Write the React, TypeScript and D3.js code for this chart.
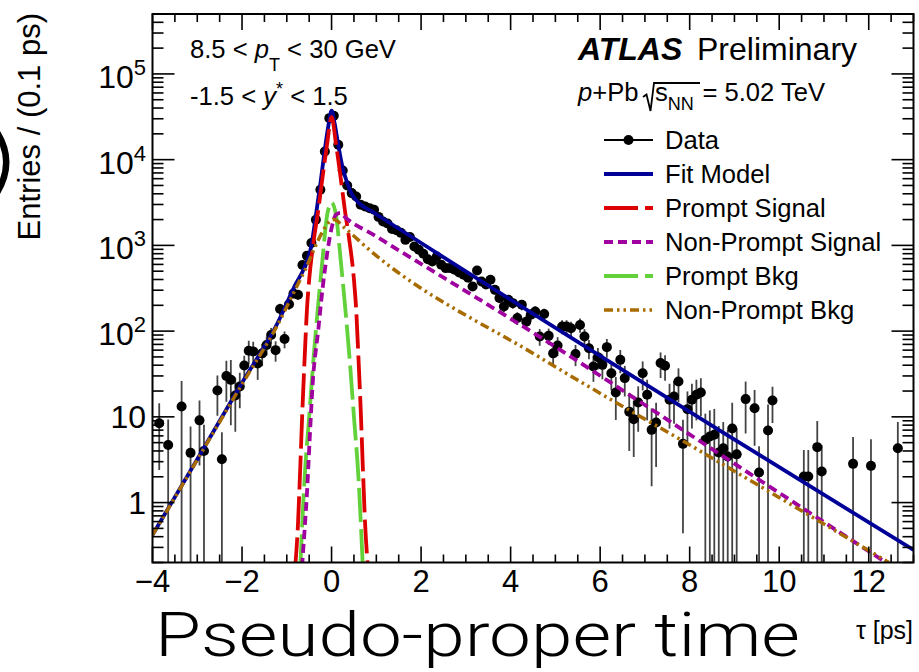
import React, { useEffect, useRef } from 'react';
import * as d3 from 'd3';

// measured entries per 0.1 ps bin
const tau = [
  -3.85, -3.65, -3.35, -3.15, -2.95, -2.85,
  -2.55, -2.45, -2.35, -2.25, -2.15, -2.05, -1.95, -1.85, -1.75, -1.65, -1.55, -1.45, -1.35,
  -1.25, -1.15, -1.05, -0.95, -0.85, -0.75, -0.65, -0.55, -0.45, -0.35, -0.25, -0.15, -0.05,
  0.05, 0.15, 0.25, 0.35, 0.45, 0.55, 0.65, 0.75, 0.85, 0.95,
  1.05, 1.15, 1.25, 1.35, 1.45, 1.55, 1.65, 1.75, 1.85, 1.95,
  2.05, 2.15, 2.25, 2.35, 2.45, 2.55, 2.65, 2.75, 2.85, 2.95,
  3.05, 3.15, 3.25, 3.35, 3.45, 3.55, 3.65, 3.75, 3.85, 3.95,
  4.05, 4.15, 4.25, 4.35, 4.45, 4.55, 4.65, 4.75, 4.85, 4.95,
  5.05, 5.15, 5.25, 5.35, 5.45, 5.55, 5.65, 5.75, 5.85, 5.95,
  6.05, 6.15, 6.25, 6.35, 6.45, 6.55, 6.65, 6.75, 6.85, 6.95,
  7.05, 7.15, 7.25, 7.35, 7.45, 7.55, 7.65, 7.75, 7.85, 7.95,
  8.05, 8.15, 8.25, 8.35, 8.45, 8.55, 8.65, 8.75, 8.85, 8.95,
  9.05, 9.25, 9.45, 9.55, 9.75, 9.85, 10.55, 10.65, 10.85, 10.95, 11.65, 12.05, 12.65,
];
const entries = [
  8.4, 4.7, 13.2, 3.8, 9.1, 4.0,
  20.3, 3.2, 30, 27, 17.7, 22.6, 39.7, 59, 58, 42, 55, 69, 90,
  60, 181, 81, 206, 275, 265, 590, 757, 1064, 1990, 4450, 12470, 30500,
  32500, 14900, 7480, 5000, 4070, 3720, 2980, 2840, 2720, 2600,
  2150, 1900, 1800, 1550, 1500, 1400, 1160, 1250, 970, 890,
  800, 690, 650, 741, 594, 543, 543, 519, 483, 454,
  420, 331, 510, 379, 350, 397, 303, 243, 194, 232,
  212, 142, 203, 129, 155, 169, 86.5, 158, 88, 55,
  68, 113, 113, 108, 54, 118, 86.5, 63, 38.6, 49.7,
  40.4, 65, 32.3, 19.2, 46.2, 28.3, 11.5, 9.4, 14.7, 32.3,
  18.1, 7.05, 8.6, 42.4, 39.4, 15.8, 17.3, 25.8, 4.84, 12.3,
  15.8, 18.1, 19.2, 5.4, 5.9, 6.17, 3.83, 4.3, 3.44, 7.3,
  3.65, 16.1, 12.6, 2.24, 6.92, 15.5, 2.01, 2.01, 4.43, 2.3, 2.83, 2.68, 4.3,
];
const errors = [
  6, 4.6, 13, 3.9, 6.4, 4.1,
  10, 3.4, 15, 19, 11, 10, 12, 18, 17, 15, 16, 17, 19,
  16, 27, 18, 29, 33, 33, 48, 55, 65, 90, 130, 220, 350,
  360, 240, 170, 140, 130, 120, 110, 105, 105, 100,
  95, 90, 85, 80, 78, 75, 68, 70, 62, 60,
  57, 53, 51, 54, 49, 47, 47, 46, 44, 43,
  41, 36, 45, 39, 37, 40, 35, 31, 28, 30,
  29, 24, 28, 23, 25, 26, 19, 25, 19, 15,
  17, 21, 21, 21, 15, 22, 19, 16, 13, 14,
  13, 16, 12, 10, 14, 11, 7.5, 6, 8, 12,
  9, 5.5, 6, 14, 13, 8.5, 9, 11, 4.4, 7.5,
  8.5, 9, 9, 5.5, 6, 6.2, 4, 4.4, 3.6, 7.3,
  3.7, 9.7, 8, 2.3, 7, 7, 2.1, 2.1, 4.5, 2.4, 3, 2.8, 4.4,
];

// fit curves
const fitTau = [-4, -3, -2, -1.2, -0.8, -0.6, -0.45, -0.35, -0.25, -0.15, -0.07, 0, 0.07, 0.15, 0.25, 0.35, 0.45, 0.62, 0.92, 8.64, 13];
const fitVal = [0.42, 3.2, 25, 126, 355, 562, 1000, 2240, 5250, 13200, 25100, 37200, 26300, 14800, 7940, 5370, 3980, 3090, 2450, 7.1, 0.28];

const promptSigTau = [-0.82, -0.75, -0.7, -0.65, -0.6, -0.55, -0.5, -0.4, -0.3, -0.2, -0.1, 0, 0.1, 0.2, 0.3, 0.4, 0.5, 0.55, 0.6, 0.65, 0.7, 0.75, 0.82];
const promptSigVal = [0.158, 0.56, 2.5, 12.6, 50, 178, 398, 1120, 2510, 6310, 15100, 31600, 15100, 6310, 2510, 1120, 398, 178, 50, 12.6, 2.5, 0.56, 0.158];

const promptBkgTau = [-0.7, -0.6, -0.5, -0.4, -0.3, -0.2, -0.1, 0, 0.1, 0.2, 0.3, 0.4, 0.5, 0.6, 0.7];
const promptBkgVal = [0.17, 2.0, 10, 50, 200, 708, 2240, 3160, 2240, 708, 200, 50, 10, 2.0, 0.17];

const nonPromptSigTau = [-0.66, -0.6, -0.55, -0.49, -0.42, -0.3, -0.2, -0.1, 0, 0.1, 0.2, 0.3, 0.95, 4.75, 8.64, 12.45];
const nonPromptSigVal = [0.178, 0.5, 1.26, 5.37, 25.1, 100, 316, 794, 1585, 2290, 2400, 2140, 1318, 79.4, 3.77, 0.19];

const nonPromptBkgTau = [-4, -3, -2, -1.2, -0.75, -0.56, -0.38, -0.19, -0.04, 0.05, 0.3, 0.84, 4.63, 8.64, 12.45];
const nonPromptBkgVal = [0.417, 3.16, 24, 120, 355, 562, 933, 1480, 1905, 2000, 1585, 891, 50.1, 3.0, 0.2];

const xTickLabels = [-4, -2, 0, 2, 4, 6, 8, 10, 12];
const yTickLabels = [1, 10, 100, 1000, 10000, 100000];
const legendLabels = ['Data', 'Fit Model', 'Prompt Signal', 'Non-Prompt Signal', 'Prompt Bkg', 'Non-Prompt Bkg'];

const FONT = "'Liberation Sans', Arial, Helvetica, sans-serif";

function App() {
  const ref = useRef<SVGSVGElement>(null);

  useEffect(() => {
    const svg = d3.select(ref.current);
    svg.selectAll('*').remove();

    const left = 152.5, right = 913.5, top = 14, bottom = 562.5;
    const x = d3.scaleLinear().domain([-4, 13]).range([left, right]);
    const y = d3.scaleLog().domain([0.2, 5e5]).range([bottom, top]);

    svg.append('defs').append('clipPath').attr('id', 'plotArea')
      .append('rect').attr('x', left).attr('y', top).attr('width', right - left).attr('height', bottom - top);

    // piece of a big glyph cut by the left edge
    svg.append('path').attr('d', 'M0,131 Q19,162 0,194 L0,179 Q6,162 0,146 Z').attr('fill', '#000');

    // data error bars and markers
    const plot = svg.append('g').attr('clip-path', 'url(#plotArea)');
    const pts = tau.map((t, i) => ({ t, v: entries[i], e: errors[i] }));
    plot.selectAll('.err').data(pts).enter().append('line')
      .attr('x1', d => x(d.t)).attr('x2', d => x(d.t))
      .attr('y1', d => y(d.v + d.e))
      .attr('y2', d => (d.v - d.e > 0.2 ? y(d.v - d.e) : bottom))
      .attr('stroke', '#444').attr('stroke-width', 1.8);
    plot.selectAll('.pt').data(pts).enter().append('circle')
      .attr('cx', d => x(d.t)).attr('cy', d => y(d.v)).attr('r', 5).attr('fill', '#000');

    const line = d3.line<[number, number]>()
      .x(d => x(d[0])).y(d => y(d[1])).curve(d3.curveMonotoneX);

    const fit = { t: fitTau, v: fitVal, color: '#000099', dash: null, w: 3.8 };
    const pSig = { t: promptSigTau, v: promptSigVal, color: '#dd0000', dash: '34,7', w: 3.8 };
    const pBkg = { t: promptBkgTau, v: promptBkgVal, color: '#62d13a', dash: '34,7', w: 3.8 };
    const npSig = { t: nonPromptSigTau, v: nonPromptSigVal, color: '#a000a0', dash: '9,5', w: 3.8 };
    const npBkg = { t: nonPromptBkgTau, v: nonPromptBkgVal, color: '#a86b00', dash: '9,4,2.5,4,2.5,4', w: 3.5 };

    [fit, pSig, pBkg, npSig, npBkg].forEach(c => {
      plot.append('path')
        .attr('d', line(c.t.map((t, i) => [t, c.v[i]] as [number, number])))
        .attr('fill', 'none').attr('stroke', c.color).attr('stroke-width', c.w)
        .attr('stroke-dasharray', c.dash);
    });

    // frame and ticks
    const axes = svg.append('g').attr('stroke', '#000');
    axes.append('rect').attr('x', left).attr('y', top).attr('width', right - left).attr('height', bottom - top)
      .attr('fill', 'none').attr('stroke-width', 2);
    d3.range(-4, 13.01, 0.5).forEach(v => {
      const len = Math.abs(v % 2) < 1e-6 ? 16 : 8;
      axes.append('line').attr('x1', x(v)).attr('x2', x(v)).attr('y1', bottom).attr('y2', bottom - len).attr('stroke-width', 1.6);
      axes.append('line').attr('x1', x(v)).attr('x2', x(v)).attr('y1', top).attr('y2', top + len).attr('stroke-width', 1.6);
    });
    y.ticks().forEach(v => {
      const major = Math.abs(Math.log10(v) - Math.round(Math.log10(v))) < 1e-6;
      const len = major ? 22 : 11;
      axes.append('line').attr('x1', left).attr('x2', left + len).attr('y1', y(v)).attr('y2', y(v)).attr('stroke-width', 1.6);
      axes.append('line').attr('x1', right).attr('x2', right - len).attr('y1', y(v)).attr('y2', y(v)).attr('stroke-width', 1.6);
    });

    const txt = svg.append('g').style('font-family', FONT).attr('fill', '#000').style('white-space', 'pre');

    xTickLabels.forEach(v => {
      txt.append('text').attr('x', x(v)).attr('y', 592).attr('text-anchor', 'middle')
        .style('font-size', '31px').text(v < 0 ? '\u2212' + Math.abs(v) : String(v));
    });
    yTickLabels.forEach(v => {
      const p = Math.round(Math.log10(v));
      const t = txt.append('text').attr('x', 146).attr('text-anchor', 'end').style('font-size', '32px');
      if (p < 2) {
        t.attr('y', y(v) + 11).text(String(v));
      } else {
        t.attr('y', y(v) + 14);
        t.append('tspan').text('10');
        t.append('tspan').attr('dy', -13).style('font-size', '22px').text(String(p));
      }
    });

    txt.append('text').attr('transform', 'rotate(-90)').attr('x', -13).attr('y', 40)
      .attr('text-anchor', 'end').style('font-size', '31px').text('Entries / (0.1 ps)');

    txt.append('text').attr('x', 155).attr('y', 656)
      .attr('textLength', 645).attr('lengthAdjust', 'spacingAndGlyphs')
      .style('font-family', "Roboto, Lato, 'Open Sans', sans-serif").style('font-weight', 300)
      .style('font-size', '62px').text('Pseudo-proper time');
    txt.append('text').attr('x', 913).attr('y', 639).attr('text-anchor', 'end')
      .style('font-size', '25px').text('\u03c4 [ps]');

    // kinematic selection
    const k1 = txt.append('text').attr('x', 190).attr('y', 58).style('font-size', '25.6px');
    k1.append('tspan').text('8.5 < ');
    k1.append('tspan').style('font-style', 'italic').text('p');
    k1.append('tspan').attr('dy', 13).style('font-size', '18px').text('T');
    k1.append('tspan').attr('dy', -13).text(' < 30 GeV');
    const k2 = txt.append('text').attr('x', 190).attr('y', 105).style('font-size', '25.6px');
    k2.append('tspan').text('-1.5 < ');
    k2.append('tspan').style('font-style', 'italic').text('y');
    k2.append('tspan').attr('dy', -10).style('font-size', '18px').text('*');
    k2.append('tspan').attr('dy', 10).text(' < 1.5');

    // ATLAS label
    txt.append('text').attr('x', 578).attr('y', 60).style('font-size', '32px')
      .style('font-weight', 'bold').style('font-style', 'italic').text('ATLAS');
    txt.append('text').attr('x', 697).attr('y', 60).style('font-size', '32px').text('Preliminary');

    const s1 = txt.append('text').attr('x', 578).attr('y', 101).style('font-size', '25.6px');
    s1.append('tspan').style('font-style', 'italic').text('p');
    s1.append('tspan').text('+Pb');
    svg.append('path').attr('d', 'M643,97 L646.5,94.5 L650.5,111 L654,83 L700,83')
      .attr('fill', 'none').attr('stroke', '#000').attr('stroke-width', 1.8);
    const s2 = txt.append('text').attr('x', 655).attr('y', 101).style('font-size', '25.6px');
    s2.append('tspan').text('s');
    s2.append('tspan').attr('dy', 9).style('font-size', '18px').text('NN');
    txt.append('text').attr('x', 825).attr('y', 101).attr('text-anchor', 'end')
      .style('font-size', '25.6px').text('= 5.02 TeV');

    // legend
    const lg = svg.append('g');
    const styles = [null, fit, pSig, npSig, pBkg, npBkg];
    legendLabels.forEach((label, i) => {
      const cy = 140 + i * 34;
      const st = styles[i];
      lg.append('line').attr('x1', 604).attr('x2', 653).attr('y1', cy).attr('y2', cy)
        .attr('stroke', st ? st.color : '#000').attr('stroke-width', st ? st.w : 2)
        .attr('stroke-dasharray', st ? st.dash : null);
      if (!st) lg.append('circle').attr('cx', 628.5).attr('cy', cy).attr('r', 5).attr('fill', '#000');
      txt.append('text').attr('x', 665).attr('y', cy + 9).style('font-size', '25.6px').text(label);
    });
  }, []);

  return (
    <svg ref={ref} width={919} height={672}
      style={{ position: 'absolute', left: 0, top: 0, background: '#fff' }} />
  );
}

export default App;
